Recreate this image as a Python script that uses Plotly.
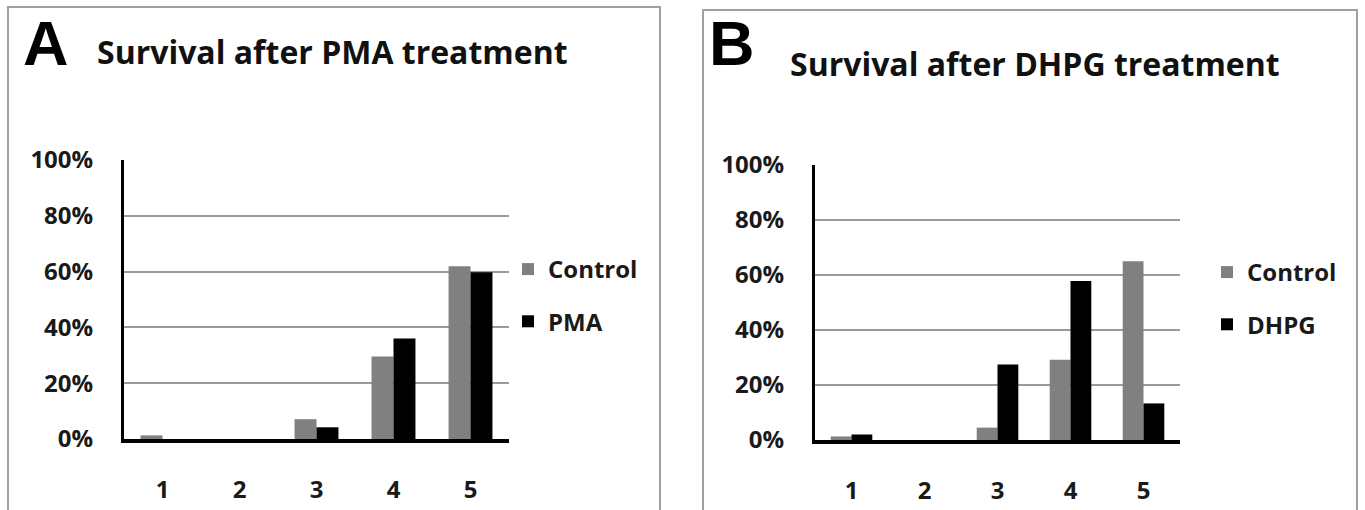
import plotly.graph_objects as go

categories = ["1", "2", "3", "4", "5"]
pma_control = [0.013, 0.0, 0.071, 0.296, 0.619]
pma_treated = [0.0, 0.0, 0.042, 0.36, 0.598]
dhpg_control = [0.013, 0.0, 0.045, 0.292, 0.65]
dhpg_treated = [0.02, 0.0, 0.275, 0.578, 0.133]
y_ticks = [0, 0.2, 0.4, 0.6, 0.8, 1.0]

W, H = 1365, 510
FONT = "Open Sans"
GREY = "#808080"
BLACK = "#000000"
TXT = "#1a1a1a"

def px(x):
    return x / W

def py(y):
    return 1 - y / H

fig = go.Figure()
fig.add_trace(go.Bar(x=categories, y=pma_control, name="Control", marker_color=GREY,
                     marker_line_width=0, xaxis="x", yaxis="y", legend="legend", legendgroup="a1"))
fig.add_trace(go.Bar(x=categories, y=pma_treated, name="PMA", marker_color=BLACK,
                     marker_line_width=0, xaxis="x", yaxis="y", legend="legend", legendgroup="a2"))
fig.add_trace(go.Bar(x=categories, y=dhpg_control, name="Control", marker_color=GREY,
                     marker_line_width=0, xaxis="x2", yaxis="y2", legend="legend2", legendgroup="b1"))
fig.add_trace(go.Bar(x=categories, y=dhpg_treated, name="DHPG", marker_color=BLACK,
                     marker_line_width=0, xaxis="x2", yaxis="y2", legend="legend2", legendgroup="b2"))

tickfont = dict(family=FONT, size=24, color=TXT, weight="bold")

def xaxis(dom, anchor):
    return dict(domain=dom, anchor=anchor, type="category", range=[-0.5, 4.5], automargin=False,
                showline=True, linecolor="black", linewidth=4, ticks="", showgrid=False,
                tickfont=tickfont, ticklabelstandoff=26, zeroline=False, fixedrange=True)

def yaxis(dom, anchor):
    return dict(domain=dom, anchor=anchor, range=[0, 1.0], tickvals=y_ticks, tickformat=".0%",
                automargin=False,
                showline=True, linecolor="black", linewidth=3, ticks="", showgrid=True,
                gridcolor="#9a9a9a", gridwidth=1.5, zeroline=False, tickfont=tickfont,
                ticklabelstandoff=23, fixedrange=True)

legfont = dict(family=FONT, size=24, color=TXT, weight="bold")

fig.update_layout(
    template="none",
    width=W, height=H, margin=dict(l=0, r=0, t=0, b=0, pad=0), autosize=False,
    paper_bgcolor="white", plot_bgcolor="white",
    barmode="group", bargap=0.43, bargroupgap=0,
    xaxis=xaxis([px(124), px(509)], "y"),
    yaxis=yaxis([py(439), py(160)], "x"),
    xaxis2=xaxis([px(815), px(1180)], "y2"),
    yaxis2=yaxis([py(440), py(165)], "x2"),
    legend=dict(x=px(508), y=py(247), xanchor="left", yanchor="top", font=legfont,
                tracegroupgap=18, bgcolor="rgba(0,0,0,0)", borderwidth=0),
    legend2=dict(x=px(1207), y=py(250), xanchor="left", yanchor="top", font=legfont,
                 tracegroupgap=18, bgcolor="rgba(0,0,0,0)", borderwidth=0),
    shapes=[
        dict(type="rect", xref="paper", yref="paper", x0=px(8), x1=px(660), y0=py(7), y1=py(530),
             line=dict(color="#a0a0a0", width=2), fillcolor="rgba(0,0,0,0)", layer="below"),
        dict(type="rect", xref="paper", yref="paper", x0=px(703), x1=px(1357), y0=py(10), y1=py(530),
             line=dict(color="#a0a0a0", width=2), fillcolor="rgba(0,0,0,0)", layer="below"),
    ],
    annotations=[
        dict(text="A", x=px(21), y=py(43), xref="paper", yref="paper", xanchor="left", yanchor="middle",
             showarrow=False, font=dict(family="Liberation Sans", size=63, color="black", weight="bold")),
        dict(text="Survival after PMA treatment", x=px(95), y=py(52), xref="paper", yref="paper",
             xanchor="left", yanchor="middle", showarrow=False,
             font=dict(family=FONT, size=32, color="#111111", weight="bold")),
        dict(text="B", x=px(707), y=py(43), xref="paper", yref="paper", xanchor="left", yanchor="middle",
             showarrow=False, font=dict(family="Liberation Sans", size=63, color="black", weight="bold")),
        dict(text="Survival after DHPG treatment", x=px(788), y=py(63), xref="paper", yref="paper",
             xanchor="left", yanchor="middle", showarrow=False,
             font=dict(family=FONT, size=32, color="#111111", weight="bold")),
    ],
)

fig.write_html("out.html")
